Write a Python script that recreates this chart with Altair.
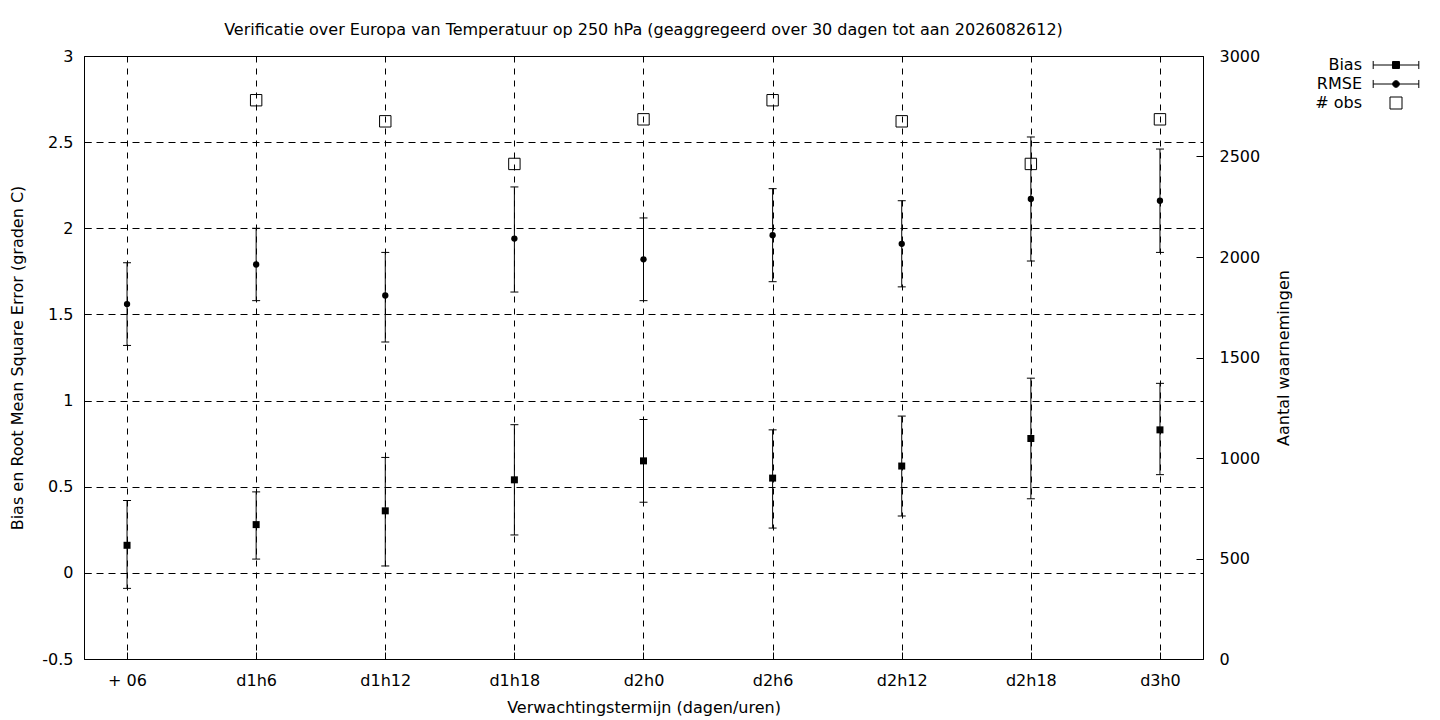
import json
import altair as alt
import pandas as pd

FONT = "DejaVu Sans"
FS = 16

# verwachtingstermijnen
labels = ["+ 06", "d1h6", "d1h12", "d1h18", "d2h0", "d2h6", "d2h12", "d2h18", "d3h0"]

bias = [0.16, 0.28, 0.36, 0.54, 0.65, 0.55, 0.62, 0.78, 0.83]
bias_lo = [-0.09, 0.08, 0.04, 0.22, 0.41, 0.26, 0.33, 0.43, 0.57]
bias_hi = [0.42, 0.47, 0.67, 0.86, 0.89, 0.83, 0.91, 1.13, 1.10]

rmse = [1.56, 1.79, 1.61, 1.94, 1.82, 1.96, 1.91, 2.17, 2.16]
rmse_lo = [1.32, 1.58, 1.34, 1.63, 1.58, 1.69, 1.66, 1.81, 1.86]
rmse_hi = [1.80, 2.00, 1.86, 2.24, 2.06, 2.23, 2.16, 2.53, 2.46]

# aantal waarnemingen (geen waarde voor + 06)
nobs = [None, 2780, 2675, 2463, 2685, 2780, 2675, 2463, 2685]

series = ["Bias", "RMSE", "# obs"]

idx = list(range(len(labels)))
stats = pd.concat(
    [
        pd.DataFrame({"i": idx, "serie": "Bias", "v": bias, "lo": bias_lo, "hi": bias_hi}),
        pd.DataFrame({"i": idx, "serie": "RMSE", "v": rmse, "lo": rmse_lo, "hi": rmse_hi}),
    ],
    ignore_index=True,
)
obs = pd.DataFrame({"i": idx, "n": nobs}).dropna()
legend_df = pd.DataFrame({"serie": series})

x_enc = alt.X(
    "i:Q",
    scale=alt.Scale(domain=[-1 / 3, len(labels) - 1 + 1 / 3], nice=False, zero=False),
    axis=alt.Axis(
        values=idx,
        labelExpr=json.dumps(labels) + "[datum.value]",
        title="Verwachtingstermijn (dagen/uren)",
        grid=True,
        gridDash=[6, 6],
        domain=False,
        offset=-7,
        tickSize=7,
        labelPadding=13,
        titlePadding=11,
    ),
)

y_scale = alt.Scale(domain=[-0.5, 3], nice=False, zero=False)
y_axis = alt.Axis(
    values=[-0.5, 0, 0.5, 1, 1.5, 2, 2.5, 3],
    labelExpr="'' + datum.value",
    title="Bias en Root Mean Square Error (graden C)",
    grid=True,
    gridDash=[7, 5],
    domain=False,
    offset=-7,
    tickSize=7,
    labelPadding=11,
    titlePadding=16,
)

base = alt.Chart(stats).encode(x=x_enc)

bars = base.mark_rule(color="black", strokeWidth=1).encode(
    y=alt.Y("lo:Q", scale=y_scale, axis=y_axis), y2="hi:Q"
)
cap_lo = base.mark_tick(orient="horizontal", size=8, thickness=1, color="black", opacity=1).encode(
    y=alt.Y("lo:Q", scale=y_scale)
)
cap_hi = base.mark_tick(orient="horizontal", size=8, thickness=1, color="black", opacity=1).encode(
    y=alt.Y("hi:Q", scale=y_scale)
)
bias_pts = base.transform_filter(alt.datum.serie == "Bias").mark_point(
    shape="square", filled=True, size=49, color="black", opacity=1
).encode(y=alt.Y("v:Q", scale=y_scale))
rmse_pts = base.transform_filter(alt.datum.serie == "RMSE").mark_circle(
    size=40, color="black", opacity=1
).encode(y=alt.Y("v:Q", scale=y_scale))

# legenda met eigen symbolen (errorbar + marker)
sym_bias = "M-3.8,0H3.8M-3.8,-0.67V0.67M3.8,-0.67V0.67M-0.58,-0.58H0.58V0.58H-0.58Z"
sym_rmse = (
    "M-3.8,0H3.8M-3.8,-0.67V0.67M3.8,-0.67V0.67"
    "M-0.55,0A0.55,0.55 0 1,1 0.55,0A0.55,0.55 0 1,1 -0.55,0Z"
)
sym_obs = "M-1,-1H1V1H-1Z"
leg = alt.Legend(
    title=None,
    orient="none",
    legendX=1304,
    legendY=1,
    padding=0,
    rowPadding=3,
    labelAlign="right",
    labelOffset={"expr": "-42"},
    labelFont=FONT,
    labelFontSize=FS,
    labelColor="black",
    symbolSize=144,
    symbolStrokeWidth=1,
    symbolOpacity=1,
)
legend_layer = alt.Chart(legend_df).mark_point(opacity=0, strokeWidth=1).encode(
    shape=alt.Shape(
        "serie:N",
        scale=alt.Scale(domain=series, range=[sym_bias, sym_rmse, sym_obs]),
        legend=leg,
    ),
    fill=alt.Fill(
        "serie:N",
        scale=alt.Scale(domain=series, range=["black", "black", "white"]),
        legend=leg,
    ),
    stroke=alt.Stroke(
        "serie:N",
        scale=alt.Scale(domain=series, range=["black", "black", "black"]),
        legend=leg,
    ),
)

left = alt.layer(bars, cap_lo, cap_hi, bias_pts, rmse_pts, legend_layer)

right = alt.Chart(obs).mark_point(
    shape="square", filled=False, size=130, strokeWidth=1, color="black", opacity=1
).encode(
    x=x_enc,
    y=alt.Y(
        "n:Q",
        scale=alt.Scale(domain=[0, 3000], nice=False, zero=True),
        axis=alt.Axis(
            orient="right",
            values=[0, 500, 1000, 1500, 2000, 2500, 3000],
            labelExpr="'' + datum.value",
            title="Aantal waarnemingen",
            titleAngle=270,
            grid=False,
            domain=False,
            offset=-7,
            tickSize=7,
            labelPadding=16,
            titlePadding=32,
        ),
    ),
)

chart = (
    alt.layer(left, right)
    .resolve_scale(y="independent")
    .properties(
        width=1119,
        height=603,
        autosize=alt.AutoSizeParams(type="none"),
        padding={"left": 76, "top": 48, "right": 224, "bottom": 57},
        title=alt.TitleParams(
            "Verificatie over Europa van Temperatuur op 250 hPa (geaggregeerd over 30 dagen tot aan 2026082612)",
            font=FONT,
            fontSize=FS,
            fontWeight="normal",
            color="black",
            anchor="middle",
            offset=10,
        ),
    )
    .configure(background="white")
    .configure_view(stroke="black", strokeWidth=1)
    .configure_axis(
        labelFont=FONT,
        labelFontSize=FS,
        labelColor="black",
        titleFont=FONT,
        titleFontSize=FS,
        titleFontWeight="normal",
        titleColor="black",
        tickColor="black",
        tickWidth=1,
        gridColor="black",
        gridOpacity=1,
        gridWidth=1,
    )
)

chart.save("out.html", embed_options={"renderer": "svg", "actions": False})
